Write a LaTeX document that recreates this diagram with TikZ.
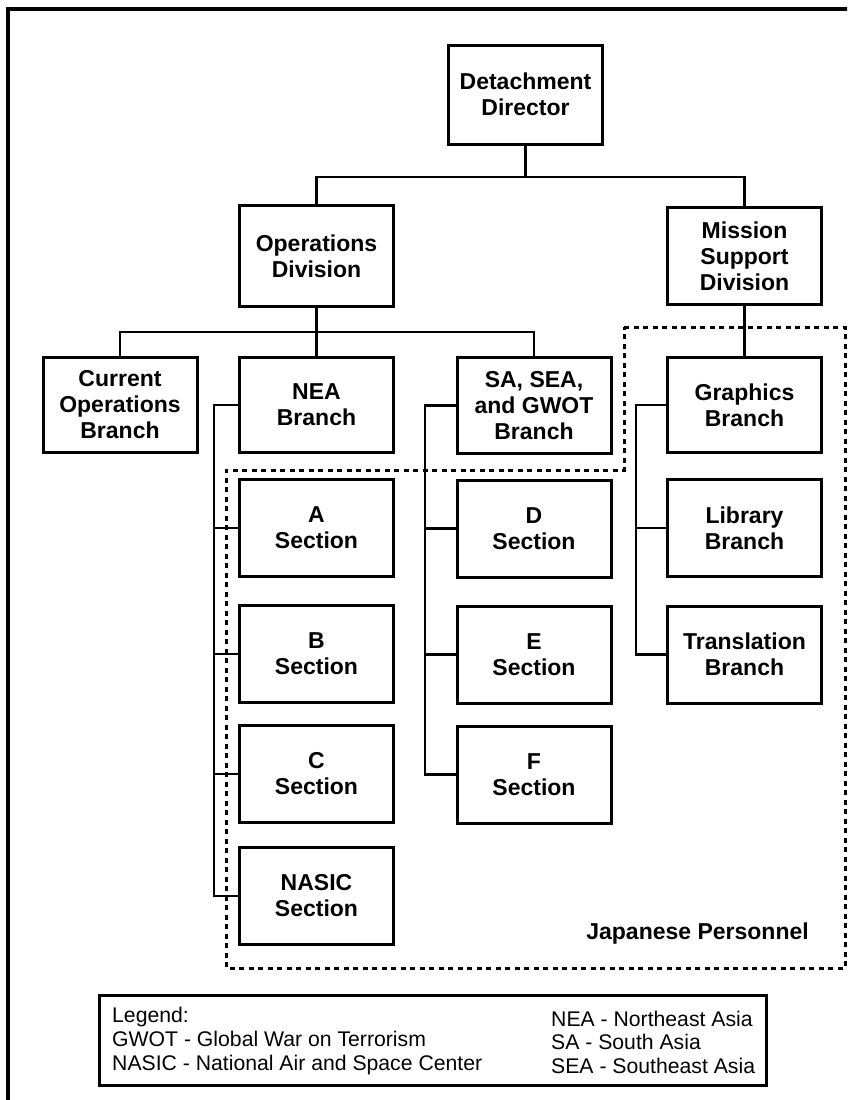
\documentclass[tikz,border=0pt]{standalone}
\usepackage{fontspec}
\setmainfont{Liberation Sans}
\begin{document}
\begin{tikzpicture}[x=1pt,y=-1pt,
  unit/.style={draw, line width=3pt, minimum width=154pt, minimum height=97pt,
    align=center, inner sep=0pt, font=\bfseries\fontsize{23}{26}\selectfont},
  link/.style={line width=2.6pt},
  zone/.style={line width=3pt, dash pattern=on 5pt off 4.5pt},
  legtext/.style={anchor=base west, inner sep=0pt, font=\fontsize{21.2}{24}\selectfont}]
\clip (0,0) rectangle (847,1100);
\fill[white] (0,0) rectangle (847,1100);
% outer frame
\draw[line width=3.5pt] (8,9) rectangle (860,1110);

% top levels
\node[unit, minimum height=99pt] (dir) at (525.5,94.5) {Detachment\\Director};
\node[unit, minimum height=101pt] (ops) at (316.5,256) {Operations\\Division};
\node[unit] (msd) at (744.5,256) {Mission\\Support\\Division};

% branches
\node[unit, minimum height=95pt] (cur) at (120,404.5) {Current\\Operations\\Branch};
\node[unit, minimum height=95pt] (nea) at (316.5,405) {NEA\\Branch};
\node[unit, minimum height=96pt] (sa) at (534,405.5) {SA, SEA,\\and GWOT\\Branch};
\node[unit, minimum height=95pt] (gfx) at (744.5,405) {Graphics\\Branch};

% sections
\node[unit] (secA) at (316.5,528) {A\\Section};
\node[unit] (secB) at (316.5,654) {B\\Section};
\node[unit] (secC) at (316.5,774) {C\\Section};
\node[unit] (secN) at (316.5,896) {NASIC\\Section};
\node[unit] (secD) at (534,528.5) {D\\Section};
\node[unit] (secE) at (534,654.5) {E\\Section};
\node[unit] (secF) at (534,774.5) {F\\Section};
\node[unit] (lib) at (744.5,528) {Library\\Branch};
\node[unit] (trans) at (744.5,654.5) {Translation\\Branch};

% junctions
\coordinate (j1) at (525.5,177);
\coordinate (j2) at (316.5,332);
\coordinate (nspine) at (214,896);
\coordinate (sspine) at (425,774.5);
\coordinate (gspine) at (636,654.5);

% connectors
\draw[link] (dir.south) -- (j1);
\draw[link] (ops.north) |- (j1);
\draw[link] (msd.north) |- (j1);
\draw[link] (ops.south) -- (j2);
\draw[link] (cur.north) |- (j2);
\draw[link] (sa.north) |- (j2);
\draw[link] (nea.north) -- (j2);
\draw[link] (msd.south) -- (gfx.north);

\draw[link] (nea.west) -| (nspine) -- (secN.west);
\draw[link] (secA.west) -- (secA.west -| nspine);
\draw[link] (secB.west) -- (secB.west -| nspine);
\draw[link] (secC.west) -- (secC.west -| nspine);

\draw[link] (sa.west) -| (sspine) -- (secF.west);
\draw[link] (secD.west) -- (secD.west -| sspine);
\draw[link] (secE.west) -- (secE.west -| sspine);

\draw[link] (gfx.west) -| (gspine) -- (trans.west);
\draw[link] (lib.west) -- (lib.west -| gspine);

% Japanese personnel area
\draw[zone] (624,327) -- (845,327) -- (845,968) -- (226,968) -- (226,470) -- (624,470) -- cycle;
\node[anchor=base east, inner sep=0pt, font=\bfseries\fontsize{23}{26}\selectfont] (jp) at (809,939) {Japanese Personnel};

% legend
\draw[line width=3pt] (99,995) rectangle (766,1085);
\node[legtext] (lg0) at (112,1022) {Legend:};
\node[legtext] (lg1) at (112,1046) {GWOT - Global War on Terrorism};
\node[legtext] (lg2) at (112,1070) {NASIC - National Air and Space Center};
\node[legtext] (lg3) at (551,1026) {NEA - Northeast Asia};
\node[legtext] (lg4) at (551,1049) {SA - South Asia};
\node[legtext] (lg5) at (551,1073) {SEA - Southeast Asia};
\end{tikzpicture}
\end{document}
